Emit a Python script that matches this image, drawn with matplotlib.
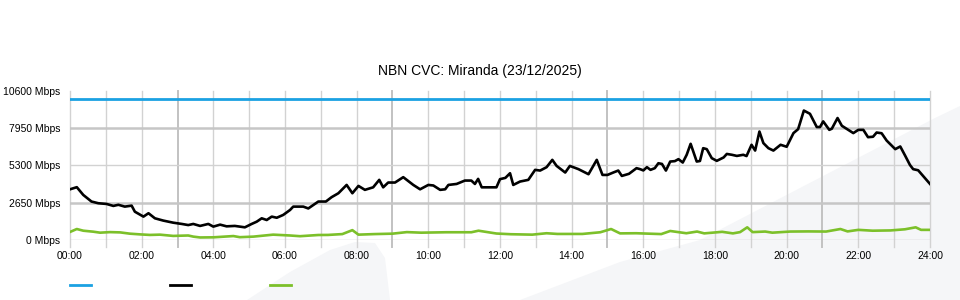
import matplotlib
matplotlib.use('Agg')
import matplotlib.pyplot as plt
from matplotlib.patches import Polygon
from matplotlib.lines import Line2D

# capacidade do CVC (linha azul)
capacidade = 10000

# trafego de download (linha preta), horas x Mbps
horas_down = [0.0, 0.19, 0.37, 0.60, 0.79, 1.02, 1.21, 1.35, 1.53, 1.72, 1.81, 2.05, 2.19,
              2.37, 2.60, 2.88, 3.12, 3.30, 3.44, 3.63, 3.86, 4.0, 4.19, 4.37, 4.60, 4.88,
              5.07, 5.21, 5.35, 5.49, 5.63, 5.77, 5.95, 6.14, 6.23, 6.51, 6.65, 6.93,
              7.14, 7.30, 7.49, 7.72, 7.88, 8.05, 8.23, 8.46, 8.63, 8.74, 8.88, 9.07, 9.30,
              9.58, 9.77, 10.0, 10.14, 10.33, 10.47, 10.56, 10.79, 11.02, 11.2, 11.3, 11.39,
              11.49, 11.9, 12.0, 12.15, 12.28, 12.37, 12.56, 12.79, 12.98, 13.12, 13.3,
              13.46, 13.58, 13.82, 13.95, 14.19, 14.47, 14.7, 14.86, 15.0, 15.16, 15.3,
              15.4, 15.6, 15.81, 15.91, 16.0, 16.1, 16.2, 16.32, 16.42, 16.52, 16.63,
              16.75, 16.88, 16.98, 17.1, 17.21, 17.32, 17.49, 17.58, 17.67, 17.77, 17.91,
              18.05, 18.24, 18.33, 18.47, 18.61, 18.79, 18.88, 19.02, 19.12, 19.24, 19.35,
              19.49, 19.63, 19.83, 20.0, 20.19, 20.32, 20.48, 20.65, 20.84, 20.93, 21.02,
              21.19, 21.26, 21.42, 21.54, 21.72, 21.86, 22.0, 22.14, 22.27, 22.41, 22.51,
              22.65, 22.79, 23.03, 23.17, 23.31, 23.44, 23.53, 23.67, 23.86, 24.0]
mbps_down = [3600, 3750, 3200, 2730, 2610, 2560, 2420, 2500, 2370, 2440, 2010, 1660, 1900,
             1540, 1380, 1230, 1140, 1060, 1140, 1000, 1140, 950, 1090, 970, 1000, 900,
             1140, 1300, 1540, 1420, 1660, 1580, 1780, 2130, 2370, 2370, 2240, 2730,
             2730, 3040, 3320, 3910, 3320, 3840, 3560, 3740, 4270, 3740, 4080, 4080, 4460,
             3910, 3600, 3910, 3870, 3560, 3600, 3910, 3980, 4220, 4220, 3980, 4340,
             3740, 3740, 4320, 4410, 4740, 3910, 4150, 4270, 4980, 4930, 5170,
             5690, 5260, 4790, 5260, 5030, 4670, 5690, 4620, 4620, 4790, 4930,
             4550, 4700, 5100, 5030, 4940, 5170, 4980, 5100, 5450, 5400, 4930,
             5570, 5600, 5740, 5500, 6050, 6830, 5570, 5610, 6520, 6450, 5810,
             5620, 5860, 6110, 6050, 5970, 6050, 5960, 6760, 6350, 7700, 6880,
             6520, 6350, 6760, 6620, 7590, 7870, 9190, 8960, 8020, 8020, 8420,
             7820, 7900, 8660, 8110, 7820, 7590, 7820, 7820, 7300, 7330, 7630,
             7580, 7060, 6450, 6640, 5970, 5330, 5030, 4950, 4390, 3980]

# trafego de upload (linha verde)
horas_up = [0.0, 0.19, 0.37, 0.65, 0.84, 1.12, 1.4, 1.67, 1.95, 2.23, 2.51, 2.88, 3.3, 3.44,
            3.63, 4.0, 4.56, 4.74, 5.12, 5.67, 6.14, 6.42, 6.93, 7.2, 7.6, 7.88, 8.05, 8.5,
            9.0, 9.4, 9.8, 10.5, 11.2, 11.4, 11.9, 12.3, 12.9, 13.3, 13.6, 14.3, 14.8,
            15.1, 15.35, 15.8, 16.5, 16.75, 17.2, 17.5, 17.7, 18.2, 18.5, 18.7, 18.9, 19.05,
            19.4, 19.6, 20.1, 20.6, 21.1, 21.5, 21.7, 22.0, 22.4, 22.9, 23.3, 23.6, 23.75,
            24.0]
mbps_up = [570, 780, 660, 590, 520, 560, 540, 450, 400, 360, 380, 290, 320, 240,
           180, 190, 280, 200, 240, 380, 320, 270, 355, 360, 420, 700, 380, 420,
           450, 560, 520, 550, 550, 660, 460, 410, 380, 480, 430, 430, 550,
           780, 470, 480, 420, 640, 480, 600, 470, 580, 470, 560, 900, 560,
           600, 520, 600, 610, 600, 780, 610, 720, 660, 680, 760, 900, 720,
           720]

horas_ticks = list(range(0, 25, 2))
rotulos_x = ['%02d:00' % h for h in horas_ticks]
mbps_ticks = [0, 2650, 5300, 7950, 10600]
rotulos_y = ['%d Mbps' % v for v in mbps_ticks]

plt.rcParams['font.family'] = ['Liberation Sans', 'DejaVu Sans']

W, H = 960, 300
fig = plt.figure(figsize=(W / 100, H / 100), dpi=100, facecolor='white')


def px(pontos):
    return [(x / W, 1 - y / H) for x, y in pontos]


# marca d'agua cinza clara no fundo
cinza_fundo = '#f5f6f8'
fig.patches.append(Polygon(px([(247, 300), (290, 272), (330, 250), (355, 242), (375, 243),
                                (385, 258), (390, 300)]),
                           closed=True, transform=fig.transFigure, facecolor=cinza_fundo,
                           edgecolor='none', zorder=-5))
fig.patches.append(Polygon(px([(520, 300), (620, 262), (700, 240), (800, 188), (935, 118),
                                (960, 106), (960, 300)]),
                           closed=True, transform=fig.transFigure, facecolor=cinza_fundo,
                           edgecolor='none', zorder=-5))

x0, x1, y_top, y_bot = 70, 930, 90.7, 240
ax = fig.add_axes([x0 / W, 1 - y_bot / H, (x1 - x0) / W, (y_bot - y_top) / H])
ax.set_facecolor('none')
ax.set_zorder(2)
ax.set_xlim(0, 24)
ax.set_ylim(0, 10600)

# grade
for h in range(0, 25):
    escura = h in (3, 9, 15, 21)
    ax.axvline(h, color='#c2c2c2' if escura else '#d2d2d2', lw=1.4 if escura else 1.0,
               zorder=1, ymin=-0.05, clip_on=False)
for v in (2650, 7950):
    ax.axhline(v, color='#c6c6c6', lw=1.8, zorder=1)
ax.axhline(5300, color='#d2d2d2', lw=1.0, zorder=1)
ax.axhline(0, color='#c8c8c8', lw=1.0, zorder=1)

for s in ax.spines.values():
    s.set_visible(False)

ax.plot([0, 24], [capacidade, capacidade], color='#1ba1e2', lw=2, zorder=3)
ax.plot(horas_down, mbps_down, color='black', lw=1.9, zorder=4)
ax.plot(horas_up, mbps_up, color='#7cc02a', lw=1.9, zorder=3)

ax.set_xticks(horas_ticks)
ax.set_xticklabels(rotulos_x, fontsize=7.5)
ax.set_yticks(mbps_ticks)
ax.set_yticklabels(rotulos_y, fontsize=7.5)
ax.tick_params(length=0)
ax.tick_params(axis='y', pad=7)
ax.tick_params(axis='x', pad=8)

fig.text(0.5, 1 - 71 / H, 'NBN CVC: Miranda (23/12/2025)', ha='center', va='center',
         fontsize=10)

# legenda sem texto
for xl, cor in ((70, '#1ba1e2'), (170, 'black'), (270, '#7cc02a')):
    fig.add_artist(Line2D([xl / W, (xl + 21) / W], [1 - 285 / H] * 2, color=cor, lw=2,
                          transform=fig.transFigure))

fig.savefig('out.png', dpi=100, facecolor='white')
